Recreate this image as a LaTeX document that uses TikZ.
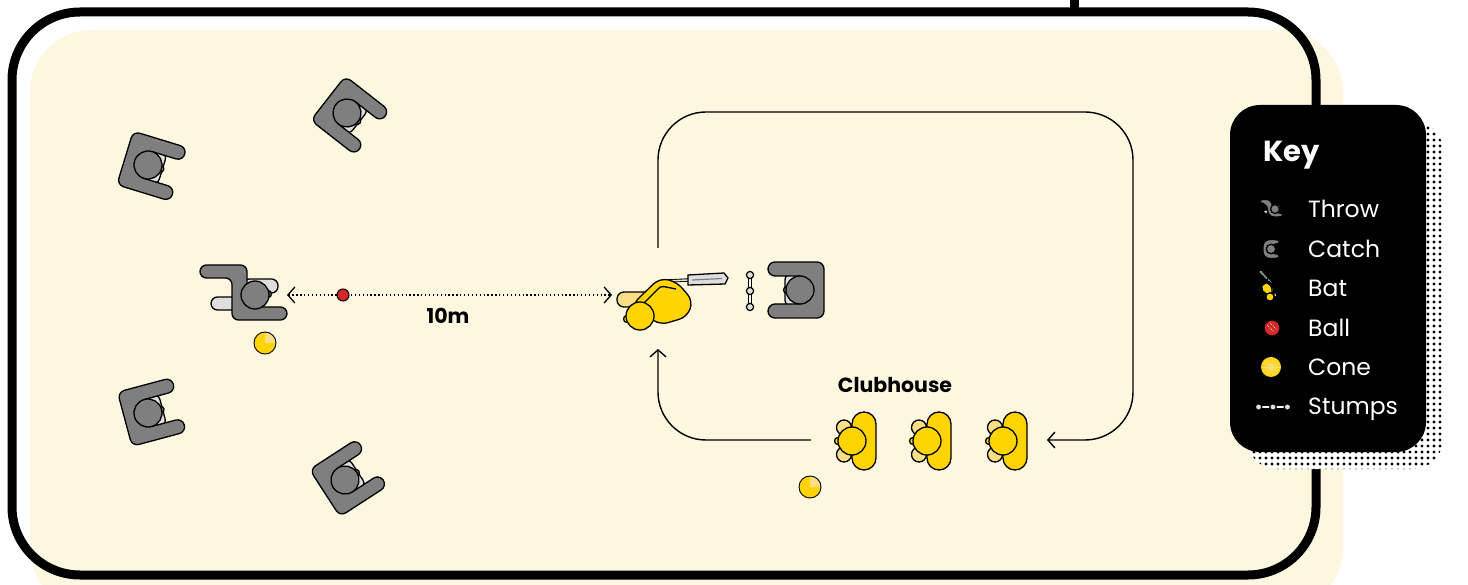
\documentclass[tikz,border=0pt]{standalone}
\usepackage{fontspec}
\setmainfont{Poppins}
\usetikzlibrary{arrows.meta}

\definecolor{cream}{HTML}{FEF7E0}
\definecolor{bodygray}{HTML}{7F7F7F}
\definecolor{handgray}{HTML}{DEDEDE}
\definecolor{kityellow}{HTML}{FFD400}
\definecolor{paleyellow}{HTML}{F8DF86}
\definecolor{ballred}{HTML}{D42A27}

\tikzset{
  figline/.style={draw=black, line width=1.3},
  route/.style={line width=1.4, rounded corners=48, -{Straight Barb[length=7,width=16]}},
  pass/.style={line width=1.3, dash pattern=on 1.3 off 2.6,
    {Straight Barb[length=7,width=16]}-{Straight Barb[length=7,width=16]}},
  keytext/.style={anchor=west, inner sep=0, text=white, font=\fontsize{23.5}{26}\selectfont},
  lbl/.style={inner sep=0, font=\bfseries\fontsize{20.5}{24}\selectfont},
  ball/.style={circle, draw, line width=1, fill=ballred, inner sep=0},
  % fielder catching, facing +x, head at the origin
  catcher/.pic={
    \draw[figline, fill=handgray, rounded corners=6] (-6,-16) rectangle (15,16);
    \draw[figline, fill=bodygray, rounded corners=7] (-24,0) -- (-24,-28) -- (32,-28) -- (32,-14)
      -- (-6,-14) -- (-6,14) -- (32,14) -- (32,28) -- (-24,28) -- cycle;
    \draw[figline, fill=bodygray] (13,0) circle (3.5);
    \draw[figline, fill=bodygray] (0,0) circle (14);
  },
  % fielder throwing
  thrower/.pic={
    \draw[figline, fill=handgray, rounded corners=6.5] (-12,-16) rectangle (23,-2);
    \draw[figline, fill=handgray, rounded corners=6.5] (-44,2) rectangle (-12,15);
    \draw[figline, fill=bodygray, rounded corners=6.5] (-30,-30) -- (-8,-30) -- (-8,12) -- (32,12)
      -- (32,25) -- (-23,25) -- (-23,-17) -- (-55,-17) -- (-55,-30) -- cycle;
    \draw[figline, fill=bodygray] (13,-1) circle (3.5);
    \draw[figline, fill=bodygray] (0,0) circle (14);
  },
  % batter with the bat out to the right
  batter/.pic={
    \draw[figline, fill=paleyellow, rounded corners=7] (-23,-24) rectangle (12,-9);
    \draw[line width=3.4] (28,-35) -- (49,-36);
    \draw[handgray, line width=1.6] (28,-35) -- (49,-36);
    \draw[figline, fill=handgray] (48,-41) -- (84,-43) -- (88,-38) -- (85,-32) -- (48,-31) -- cycle;
    \draw[bodygray, line width=1.2] (52,-36) -- (82,-37.5);
    \draw[figline, fill=kityellow, rounded corners=8] (6,-25) -- (20,-38) -- (37,-34) -- (53,-15)
      -- (47,1) -- (20,9) -- (-8,-11) -- cycle;
    \draw[line width=1.3, rounded corners=3] (4,-13) -- (21,-30) -- (36,-27);
    \draw[figline, fill=kityellow] (-13,3) circle (3.5);
    \draw[figline, fill=kityellow] (0,0) circle (14);
  },
  % waiting batter
  fielder/.pic={
    \draw[figline, fill=paleyellow] (8,-13.5) circle (7.5);
    \draw[figline, fill=paleyellow] (8,13.5) circle (7.5);
    \draw[figline, fill=kityellow, rounded corners=12] (-24,-29) rectangle (0,29);
    \draw[figline, fill=kityellow] (14,0) circle (3.5);
    \draw[figline, fill=kityellow] (0,0) circle (14);
  },
  conemark/.pic={
    \fill[kityellow] (0,0) circle (11);
    \fill[paleyellow] (0,0) -- (-90:11) arc(-90:0:11) -- cycle;
    \draw[line width=0.9] (0,0) circle (11);
  },
  stumps/.pic={
    \draw[line width=4.4] (0,-16) -- (0,16);
    \draw[white, line width=2] (0,-16) -- (0,16);
    \foreach \sy in {-16,0,16} \draw[line width=1.2, fill=handgray] (0,\sy) circle (3.6);
  }
}

\begin{document}
\begin{tikzpicture}[x=1pt, y=-1pt]
\useasboundingbox (0,0) rectangle (1468,585);

% pitch
\fill[cream, rounded corners=62] (30,30) rectangle (1343,610);
\draw[line width=9, rounded corners=68] (12,12) rectangle (1316,575);
\draw[line width=9] (1074,0) -- (1074,12);

% fielders round the thrower
\pic[rotate=-17] at (148,165) {catcher};
\pic[rotate=-38] at (347,113) {catcher};
\pic[rotate=15] at (148,413) {catcher};
\pic[rotate=33] at (345,480) {catcher};
\pic at (255,295) {thrower};
\pic at (265,343) {conemark};

% throw to the batter
\coordinate (throwtip) at (287,295);
\coordinate (battip) at (612,295);
\draw[pass] (throwtip) -- (battip);
\node[ball, minimum size=12] (ball) at (343,295) {};
\node[lbl] (dist) at (448,316) {10m};

% batter, stumps and keeper
\pic at (640,316) {batter};
\pic at (750,291) {stumps};
\pic[rotate=180] at (800,290) {catcher};

% queue at the clubhouse
\node[lbl] (clubhouse) at (895,385) {Clubhouse};
\foreach \qx in {852,927,1003}
  \pic[rotate=180] at (\qx,441) {fielder};
\pic at (810,487) {conemark};

% run round to the back of the queue
\coordinate (loopstart) at (658,248);
\coordinate (loopcorner) at (1133,112);
\coordinate (loopend) at (1047,440);
\draw[route] (loopstart) |- (loopcorner) |- (loopend);
\coordinate (backstart) at (811,440);
\coordinate (backend) at (658,349);
\draw[route] (backstart) -| (backend);

% key
\fill[white, rounded corners=30] (1247,121) rectangle (1443,469);
\begin{scope}
  \clip[rounded corners=30] (1247,121) rectangle (1443,469);
  \foreach \i in {0,...,33}
    \foreach \j in {0,...,58}
      \fill (1248+6*\i,122+6*\j) circle (1.7);
\end{scope}
\fill[rounded corners=30] (1230,105) rectangle (1426,452);
\node[keytext, font=\bfseries\fontsize{29}{32}\selectfont] (keytitle) at (1263,155) {Key};
\node[keytext] (keythrow) at (1308,209) {Throw};
\node[keytext] (keycatch) at (1308,249) {Catch};
\node[keytext] (keybat) at (1308,288) {Bat};
\node[keytext] (keyball) at (1308,328) {Ball};
\node[keytext] (keycone) at (1308,367) {Cone};
\node[keytext] (keystumps) at (1308,409) {Stumps};
\pic[scale=0.32] at (1275,209) {thrower};
\pic[scale=0.34] at (1271,249) {catcher};
\pic[scale=0.3, rotate=-45, xscale=-1] at (1270,297) {batter};
\node[ball, minimum size=16] (iconball) at (1272,328) {};
\draw[white, line width=0.7, dash pattern=on 0.8 off 1.2] (1267,325) -- (1274,332) (1270,323) -- (1277,330);
\fill[kityellow] (1271,367) circle (10);
\foreach \a in {0,20,...,340}
  \draw[paleyellow, line width=0.6] (1271,367) -- ++(\a:9.5);
\pic[scale=0.9, rotate=90] at (1273,407) {stumps};
\end{tikzpicture}
\end{document}
